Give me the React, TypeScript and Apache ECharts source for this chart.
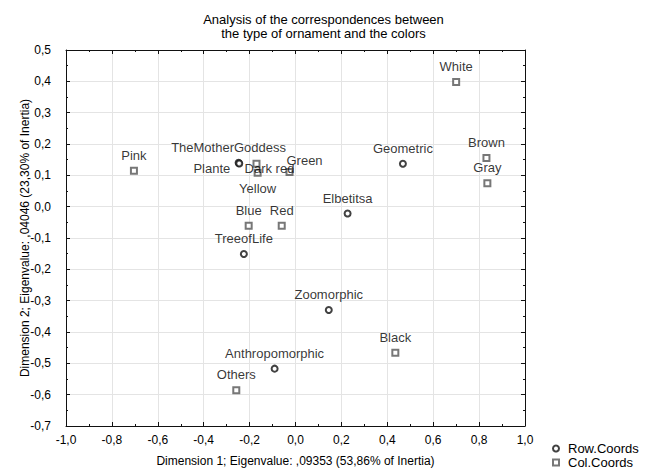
import React, { useEffect, useRef } from "react";
import * as echarts from "echarts";

const titleLines = [
  "Analysis of the correspondences between",
  "the type of ornament and the colors",
];
const xAxisName = "Dimension 1; Eigenvalue: ,09353 (53,86% of Inertia)";
const yAxisName = "Dimension 2; Eigenvalue: ,04046 (23,30% of Inertia)";

const rowNames = ["TheMotherGoddess", "Plante", "Geometric", "Elbetitsa", "TreeofLife", "Zoomorphic", "Anthropomorphic"];
const rowX = [-0.248, -0.245, 0.468, 0.227, -0.225, 0.145, -0.091];
const rowY = [0.14, 0.138, 0.137, -0.022, -0.151, -0.33, -0.517];

const colNames = ["Pink", "Dark red", "Green", "Yellow", "Blue", "Red", "White", "Brown", "Gray", "Black", "Others"];
const colX = [-0.704, -0.17, -0.026, -0.165, -0.204, -0.06, 0.7, 0.832, 0.836, 0.435, -0.258];
const colY = [0.115, 0.137, 0.111, 0.108, -0.061, -0.061, 0.398, 0.155, 0.075, -0.466, -0.586];

// label placement tweaks for the crowded cluster (pixels)
const labelPos: Record<string, string> = {
  Plante: "left",
  Yellow: "bottom",
};
const labelShift: Record<string, [number, number]> = {
  TheMotherGoddess: [-10, 0],
  Plante: [0, 5],
  "Dark red": [13, 20],
  Green: [15, 4],
};

const FONT = "'Liberation Sans', Arial, sans-serif";

function buildData(names: string[], xs: number[], ys: number[]) {
  return names.map((n, i) => {
    const item: any = { name: n, value: [xs[i], ys[i]] };
    if (labelPos[n]) item.label = { position: labelPos[n] };
    return item;
  });
}

const fmt = (v: number) => v.toFixed(1).replace(".", ",");

export default function App() {
  const ref = useRef<HTMLDivElement>(null);
  useEffect(() => {
    if (!ref.current) return;
    const chart = echarts.init(ref.current, null, { renderer: "svg" });
    const axisCommon = {
      axisLine: { show: true, onZero: false, lineStyle: { color: "#111", width: 1 } },
      axisTick: { show: true, inside: true, length: 4, lineStyle: { color: "#111" } },
      minorTick: { show: true, splitNumber: 2, length: 2, lineStyle: { color: "#111" } },
    };
    const labelStyle = {
      show: true,
      position: "top",
      distance: 5,
      formatter: "{b}",
      color: "#000",
      fontFamily: FONT,
      fontSize: 13,
    };
    const shiftLayout = (names: string[]) => (params: any) => {
      const n = names[params.dataIndex];
      const s = labelShift[n];
      if (!s) return {};
      return { dx: s[0], dy: s[1] };
    };
    const legendCommon = {
      orient: "horizontal",
      left: 552,
      itemWidth: 6,
      itemHeight: 6,
      padding: 0,
      textStyle: { fontFamily: FONT, fontSize: 13, color: "#000", padding: [0, 0, 0, 4] },
    };
    chart.setOption({
      animation: false,
      backgroundColor: "#ffffff",
      textStyle: { fontFamily: FONT },
      title: {
        text: titleLines.join("\n"),
        left: "center",
        top: 7,
        textStyle: { fontFamily: FONT, fontSize: 13, fontWeight: "normal", color: "#000", lineHeight: 14 },
      },
      grid: { left: 66, right: 122, top: 50, bottom: 45, containLabel: false },
      legend: [
        { ...legendCommon, top: 442, data: [{ name: "Row.Coords", icon: "emptyCircle" }] },
        { ...legendCommon, top: 456, data: [{ name: "Col.Coords", icon: "emptyRect" }] },
      ],
      xAxis: [
        {
          type: "value",
          min: -1,
          max: 1,
          interval: 0.2,
          name: xAxisName,
          nameLocation: "middle",
          nameGap: 29,
          nameMoveOverlap: false,
          nameTextStyle: { fontFamily: FONT, fontSize: 12, color: "#000" },
          ...axisCommon,
          axisLabel: { formatter: fmt, fontSize: 12, color: "#000", margin: 8, fontFamily: FONT },
          splitLine: { show: true, lineStyle: { color: "#e4e4e4", width: 1 } },
        },
        {
          type: "value",
          position: "top",
          min: -1,
          max: 1,
          interval: 0.2,
          ...axisCommon,
          axisLabel: { show: false },
          splitLine: { show: false },
        },
      ],
      yAxis: [
        {
          type: "value",
          min: -0.7,
          max: 0.5,
          interval: 0.1,
          name: yAxisName,
          nameLocation: "middle",
          nameGap: 35,
          nameMoveOverlap: false,
          nameTextStyle: { fontFamily: FONT, fontSize: 12, color: "#000" },
          ...axisCommon,
          axisLabel: { formatter: fmt, fontSize: 12, color: "#000", margin: 15, fontFamily: FONT },
          splitLine: { show: true, lineStyle: { color: "#e4e4e4", width: 1 } },
        },
        {
          type: "value",
          position: "right",
          min: -0.7,
          max: 0.5,
          interval: 0.1,
          ...axisCommon,
          axisLabel: { show: false },
          splitLine: { show: false },
        },
      ],
      series: [
        {
          name: "Row.Coords",
          type: "scatter",
          symbol: "emptyCircle",
          symbolSize: 6,
          itemStyle: { color: "#111", borderColor: "#111", borderWidth: 1.5 },
          label: labelStyle,
          labelLayout: shiftLayout(rowNames),
          data: buildData(rowNames, rowX, rowY),
        },
        {
          name: "Col.Coords",
          type: "scatter",
          symbol: "emptyRect",
          symbolSize: 6,
          itemStyle: { color: "#555", borderColor: "#555", borderWidth: 1.2 },
          label: labelStyle,
          labelLayout: shiftLayout(colNames),
          data: buildData(colNames, colX, colY),
        },
      ],
    });
    return () => chart.dispose();
  }, []);
  return (
    <div
      ref={ref}
      style={{ position: "fixed", left: 0, top: 0, width: 647, height: 472 }}
    />
  );
}
